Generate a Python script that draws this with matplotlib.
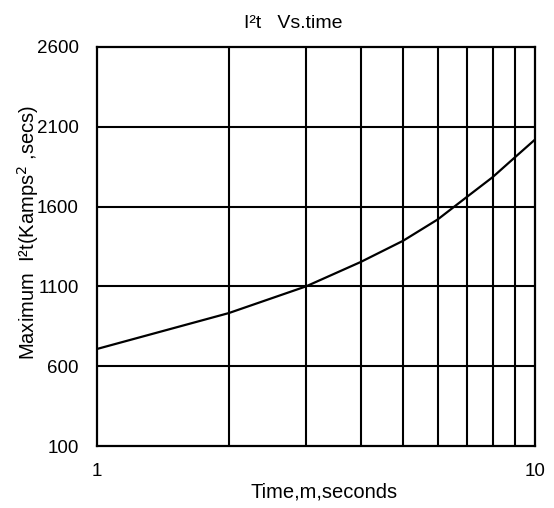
import matplotlib
matplotlib.use("Agg")
import matplotlib.pyplot as plt
from matplotlib.ticker import FixedLocator, NullFormatter

plt.rcParams['font.family'] = ['Liberation Sans', 'DejaVu Sans']

time_ms = [1, 2, 3, 4, 5, 6, 7, 8, 9, 10]
i2t = [708, 933, 1100, 1253, 1386, 1520, 1662, 1784, 1909, 2020]

y_ticks = [100, 600, 1100, 1600, 2100, 2600]
x_major = [1, 10]
x_minor = [2, 3, 4, 5, 6, 7, 8, 9]

fig = plt.figure(figsize=(5.54, 5.08), dpi=100)
ax = fig.add_axes([0.175, 0.122, 0.7907, 0.7855])

ax.plot(time_ms, i2t, color='black', lw=1.6, zorder=3)

ax.set_xscale('log')
ax.set_xlim(1, 10)
ax.set_ylim(100, 2600)
ax.xaxis.set_major_locator(FixedLocator(x_major))
ax.xaxis.set_minor_locator(FixedLocator(x_minor))
ax.xaxis.set_minor_formatter(NullFormatter())
ax.set_xticklabels([str(v) for v in x_major])
ax.set_yticks(y_ticks)
ax.set_yticklabels([str(v) for v in y_ticks])

for v in x_minor:
    ax.axvline(v, color='black', lw=1.5, zorder=2)
for v in y_ticks[1:-1]:
    ax.axhline(v, color='black', lw=1.5, zorder=2)

ax.tick_params(axis='both', which='both', length=0, labelsize=13.5)
ax.tick_params(axis='x', pad=12)
ax.tick_params(axis='y', pad=13)
for s in ax.spines.values():
    s.set_linewidth(1.6)
    s.set_color('black')

ax.set_xlabel('Time,m,seconds', fontsize=14.5)
ax.xaxis.set_label_coords(0.519, -0.092)
ax.set_ylabel('Maximum  I²t(Kamps$^{2}$ ,secs)', fontsize=14.5)
ax.yaxis.set_label_coords(-0.128, 0.536)
ax.set_title('I²t   Vs.time', fontsize=14, x=0.4475, pad=14)

fig.savefig('out.png', dpi=100)
